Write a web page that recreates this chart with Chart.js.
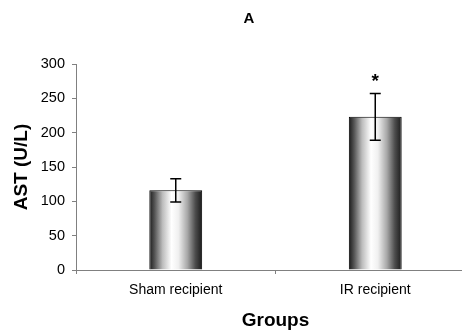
<!DOCTYPE html>
<html>
<head>
<meta charset="utf-8">
<script src="https://cdn.jsdelivr.net/npm/chart.js@4"></script>
<style>
    html, body { margin: 0; padding: 0; background: #fff; }
    .wrap { width: 462px; height: 332px; overflow: hidden; }
    canvas { display: block; }
</style>
</head>
<body>
<div class="wrap">
    <canvas id="chart" width="480" height="332"></canvas>
</div>
<script>
const FONT = "'Liberation Sans', Arial, sans-serif";
const AXIS_COLOR = '#808080';

const groups = ['Sham recipient', 'IR recipient'];
const astValues = [116, 223];
const astErrors = [17, 34];
const significance = ['', '*'];
const yTicks = [0, 50, 100, 150, 200, 250, 300];
const panelTitle = 'A';

const BAR_PCT = 0.265;

function barGradient(c) {
    const chart = c.chart;
    const x = chart.scales.x;
    if (!x) return '#999';
    const cx = x.getPixelForValue(c.dataIndex);
    const w = (x.width / groups.length) * BAR_PCT;
    if (!isFinite(cx) || !w) return '#999';
    const g = chart.ctx.createLinearGradient(cx - w / 2, 0, cx + w / 2, 0);
    g.addColorStop(0, '#1a1a1a');
    g.addColorStop(0.1, '#555');
    g.addColorStop(0.25, '#bcbcbc');
    g.addColorStop(0.42, '#ffffff');
    g.addColorStop(0.55, '#f0f0f0');
    g.addColorStop(0.72, '#a8a8a8');
    g.addColorStop(0.87, '#4d4d4d');
    g.addColorStop(1, '#1a1a1a');
    return g;
}

// error bars, asterisk, panel letter
const extras = {
    id: 'extras',
    afterDatasetsDraw(chart) {
        const {ctx, scales: {x, y}} = chart;
        ctx.save();
        ctx.strokeStyle = '#000';
        ctx.lineWidth = 1.5;
        astValues.forEach((v, i) => {
            const px = x.getPixelForValue(i);
            const top = y.getPixelForValue(v + astErrors[i]);
            const bot = y.getPixelForValue(v - astErrors[i]);
            ctx.beginPath();
            ctx.moveTo(px, top);
            ctx.lineTo(px, bot);
            ctx.moveTo(px - 5.5, top);
            ctx.lineTo(px + 5.5, top);
            ctx.moveTo(px - 5.5, bot);
            ctx.lineTo(px + 5.5, bot);
            ctx.stroke();

            if (significance[i]) {
                ctx.fillStyle = '#000';
                ctx.font = 'bold 19px ' + FONT;
                ctx.textAlign = 'center';
                ctx.textBaseline = 'middle';
                ctx.fillText(significance[i], px, top - 12);
            }
        });
        ctx.restore();
    },
    afterDraw(chart) {
        const ctx = chart.ctx;
        ctx.save();
        ctx.fillStyle = '#000';
        ctx.font = 'bold 15px ' + FONT;
        ctx.textAlign = 'center';
        ctx.textBaseline = 'middle';
        ctx.fillText(panelTitle, 249, 19);
        ctx.restore();
    }
};

new Chart(document.getElementById('chart'), {
    type: 'bar',
    data: {
        labels: groups,
        datasets: [{
            data: astValues,
            backgroundColor: barGradient,
            borderColor: '#000',
            borderWidth: 1,
            barPercentage: BAR_PCT,
            categoryPercentage: 1,
        }]
    },
    options: {
        responsive: false,
        animation: false,
        layout: {padding: {top: 64, right: 5, bottom: 0, left: 0}},
        plugins: {
            legend: {display: false},
            tooltip: {enabled: false},
            title: {display: false},
        },
        scales: {
            x: {
                afterFit: scale => { scale.height = 62; },
                border: {color: AXIS_COLOR, width: 1},
                grid: {
                    offset: true,
                    drawOnChartArea: false,
                    tickLength: 4,
                    color: AXIS_COLOR,
                },
                ticks: {
                    color: '#000',
                    padding: 8,
                    font: {family: FONT, size: 14},
                },
                title: {
                    display: true,
                    text: 'Groups',
                    color: '#000',
                    font: {family: FONT, size: 19, weight: 'bold'},
                    padding: {top: 0, bottom: 0},
                },
            },
            y: {
                min: 0,
                max: 300,
                afterFit: scale => { scale.width = 76; },
                afterBuildTicks: scale => { scale.ticks = yTicks.map(v => ({value: v})); },
                border: {color: AXIS_COLOR, width: 1},
                grid: {
                    drawOnChartArea: false,
                    tickLength: 4,
                    color: AXIS_COLOR,
                },
                ticks: {
                    color: '#000',
                    padding: 7,
                    font: {family: FONT, size: 14.5},
                },
                title: {
                    display: true,
                    text: 'AST (U/L)',
                    color: '#000',
                    font: {family: FONT, size: 19, weight: 'bold'},
                    padding: {top: 10, bottom: 0},
                },
            },
        },
    },
    plugins: [extras],
});
</script>
</body>
</html>
